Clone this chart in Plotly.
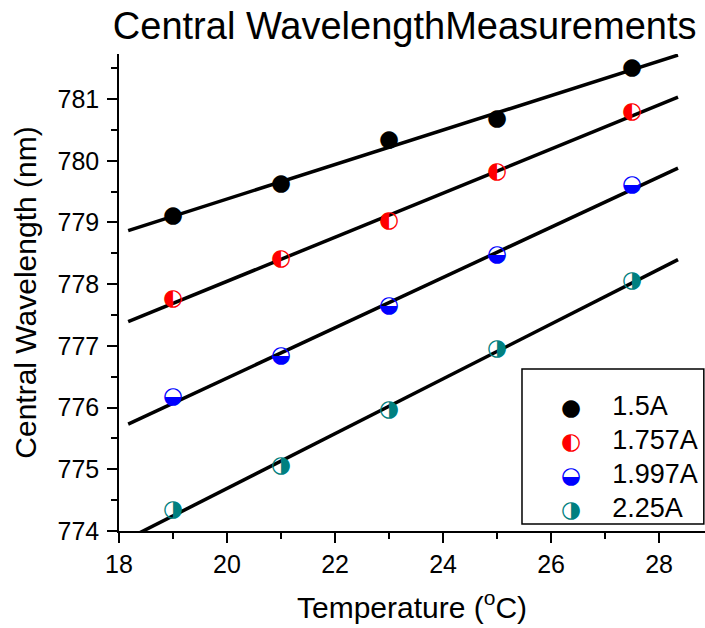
import numpy as np
import plotly.graph_objects as go

# ---- data ----
temperature = [19, 21, 23, 25, 27.5]
series_names = ["1.5A", "1.757A", "1.997A", "2.25A"]
wl_150 = [779.10, 779.62, 780.33, 780.68, 781.50]
wl_1757 = [777.75, 778.40, 779.02, 779.81, 780.79]
wl_1997 = [776.16, 776.83, 777.64, 778.47, 779.61]
wl_225 = [774.33, 775.05, 775.96, 776.95, 778.04]
series_values = [wl_150, wl_1757, wl_1997, wl_225]
fit_span = [18.17, 28.35]          # temperature extent of the fitted lines
x_ticks = [18, 20, 22, 24, 26, 28]
y_ticks = [774, 775, 776, 777, 778, 779, 780, 781]

colors = ["#000000", "#ff0000", "#0000ff", "#008080"]
glyphs = ["\u25CF", "\u25D0", "\u25D2", "\u25D1"]

fig = go.Figure()

# fitted lines
for vals in series_values:
    slope, icpt = np.polyfit(temperature, vals, 1)
    xs = np.array(fit_span)
    fig.add_trace(go.Scatter(x=xs, y=slope * xs + icpt, mode="lines",
                             line=dict(color="black", width=3.5),
                             showlegend=False, hoverinfo="skip"))

# half-filled markers drawn as glyphs
for name, vals, c, g in zip(series_names, series_values, colors, glyphs):
    fig.add_trace(go.Scatter(x=temperature, y=vals, mode="text", name=name,
                             text=[g] * len(vals), textposition="middle center",
                             showlegend=False,
                             textfont=dict(family="DejaVu Sans", size=23, color=c)))

# legend entries (glyph + label)
for name, c, g in zip(series_names, colors, glyphs):
    label = (f"<span style='font-family:DejaVu Sans;font-size:23px;color:{c}'>{g}</span>"
             f"<span style='font-size:28px'>\u00a0\u00a0\u00a0\u00a0</span>"
             f"<span style='font-size:27px'>{name}</span>")
    fig.add_trace(go.Scatter(x=[None], y=[None], mode="markers", name=label,
                             marker=dict(size=1, color="rgba(0,0,0,0)",
                                         line=dict(width=0))))

axis_font = dict(family="Liberation Sans", size=25, color="black")
fig.update_layout(
    width=705, height=628,
    margin=dict(l=119, r=0, t=54, b=97),
    paper_bgcolor="white", plot_bgcolor="white",
    title=dict(text="Central WavelengthMeasurements", x=0.574, xref="container",
               xanchor="center", y=0.98, yanchor="top",
               font=dict(family="Liberation Sans", size=38, color="black")),
    xaxis=dict(range=[18, 28.85], tickvals=x_ticks, ticks="outside", ticklen=10,
               tickwidth=1.5, tickcolor="black", showline=True, linewidth=1.5,
               linecolor="black", showgrid=False, zeroline=False, automargin=False,
               tickfont=axis_font,
               minor=dict(dtick=1, ticks="outside", ticklen=6, tickwidth=1.5,
                          tickcolor="black", showgrid=False),
               title=dict(text="Temperature (<sup>o</sup>C)", standoff=20,
                          font=dict(family="Liberation Sans", size=30, color="black"))),
    yaxis=dict(range=[774, 781.73], tickvals=y_ticks, ticks="outside", ticklen=10,
               tickwidth=1.5, tickcolor="black", showline=True, linewidth=1.5,
               linecolor="black", showgrid=False, zeroline=False, automargin=False,
               tickfont=axis_font, ticklabelstandoff=3,
               minor=dict(dtick=0.5, ticks="outside", ticklen=6, tickwidth=1.5,
                          tickcolor="black", showgrid=False),
               title=dict(text="Central Wavelength (nm)", standoff=12,
                          font=dict(family="Liberation Sans", size=30, color="black"))),
    legend=dict(x=0.686, y=0.310, xanchor="left", yanchor="top",
                bgcolor="rgba(0,0,0,0)", borderwidth=0, itemwidth=30,
                font=dict(family="Liberation Sans", size=24, color="black")),
    shapes=[dict(type="rect", xref="paper", yref="paper",
                 x0=0.6877, x1=0.998, y0=0.0147, y1=0.3396,
                 line=dict(color="black", width=1.5), fillcolor="white", layer="below")],
)

fig.write_html("out.html", config={"displayModeBar": False},
               post_script="document.body.style.margin='0';document.body.style.overflow='hidden';")
